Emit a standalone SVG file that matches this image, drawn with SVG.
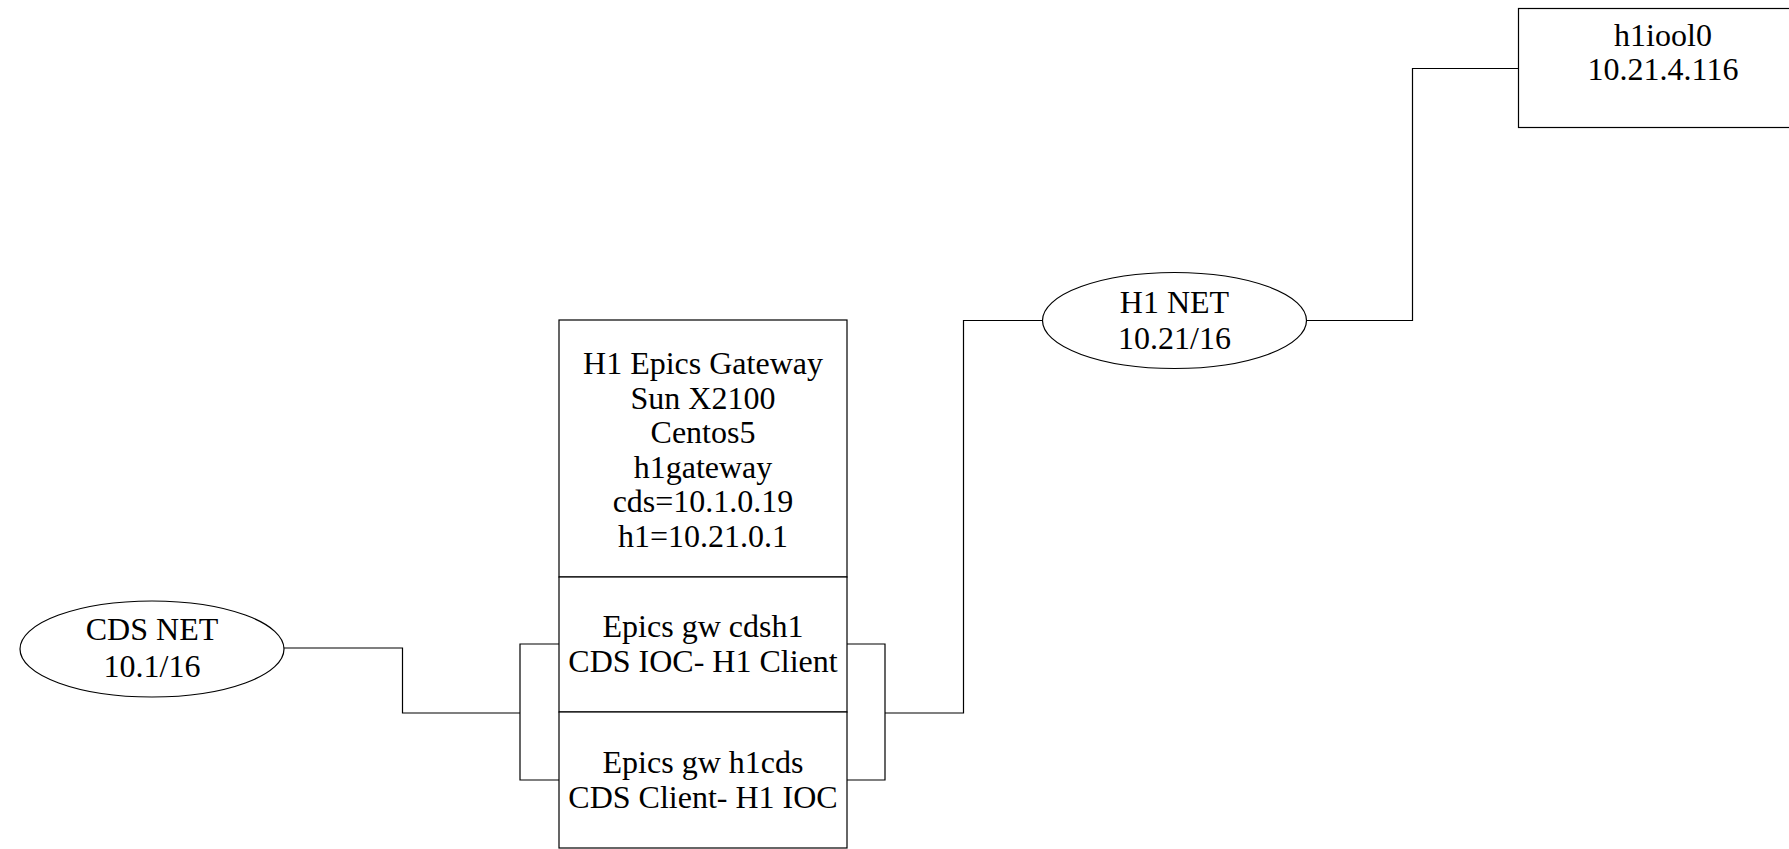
<svg xmlns="http://www.w3.org/2000/svg" width="1789" height="849" viewBox="0 0 1789 849">
<style>
.shape{fill:#fff;stroke:#000;stroke-width:1.2}
.conn{fill:none;stroke:#000;stroke-width:1.2}
text{font-family:"Liberation Serif","Times New Roman",serif;font-size:32px;fill:#000;text-anchor:middle}
</style>
<rect width="1789" height="849" fill="#fff"/>
<g id="connectors">
<polyline class="conn" points="284,648 402.5,648 402.5,713 520,713"/>
<polyline class="conn" points="559,644 520,644 520,780 559,780"/>
<polyline class="conn" points="847,644 885,644 885,780 847,780"/>
<polyline class="conn" points="885,713 963.5,713 963.5,320.5 1042.5,320.5"/>
<polyline class="conn" points="1306.5,320.5 1412.5,320.5 1412.5,68.5 1518.5,68.5"/>
</g>
<g id="cds-net">
<ellipse class="shape" cx="152" cy="649" rx="132" ry="48"/>
<text x="152" y="640">CDS NET</text>
<text x="152" y="677">10.1/16</text>
</g>
<g id="gateway">
<rect class="shape" x="559" y="320" width="288" height="257"/>
<text x="703" y="374">H1 Epics Gateway</text>
<text x="703" y="408.5">Sun X2100</text>
<text x="703" y="443">Centos5</text>
<text x="703" y="477.5">h1gateway</text>
<text x="703" y="512">cds=10.1.0.19</text>
<text x="703" y="546.5">h1=10.21.0.1</text>
</g>
<g id="gw-cdsh1">
<rect class="shape" x="559" y="577" width="288" height="135"/>
<text x="703" y="637">Epics gw cdsh1</text>
<text x="703" y="672">CDS IOC- H1 Client</text>
</g>
<g id="gw-h1cds">
<rect class="shape" x="559" y="712" width="288" height="136"/>
<text x="703" y="773">Epics gw h1cds</text>
<text x="703" y="808">CDS Client- H1 IOC</text>
</g>
<g id="h1-net">
<ellipse class="shape" cx="1174.5" cy="320.5" rx="132" ry="48"/>
<text x="1174.5" y="313">H1 NET</text>
<text x="1174.5" y="349">10.21/16</text>
</g>
<g id="h1iool0">
<rect class="shape" x="1518.5" y="8.5" width="290" height="119"/>
<text x="1663" y="46">h1iool0</text>
<text x="1663" y="80">10.21.4.116</text>
</g>
</svg>
